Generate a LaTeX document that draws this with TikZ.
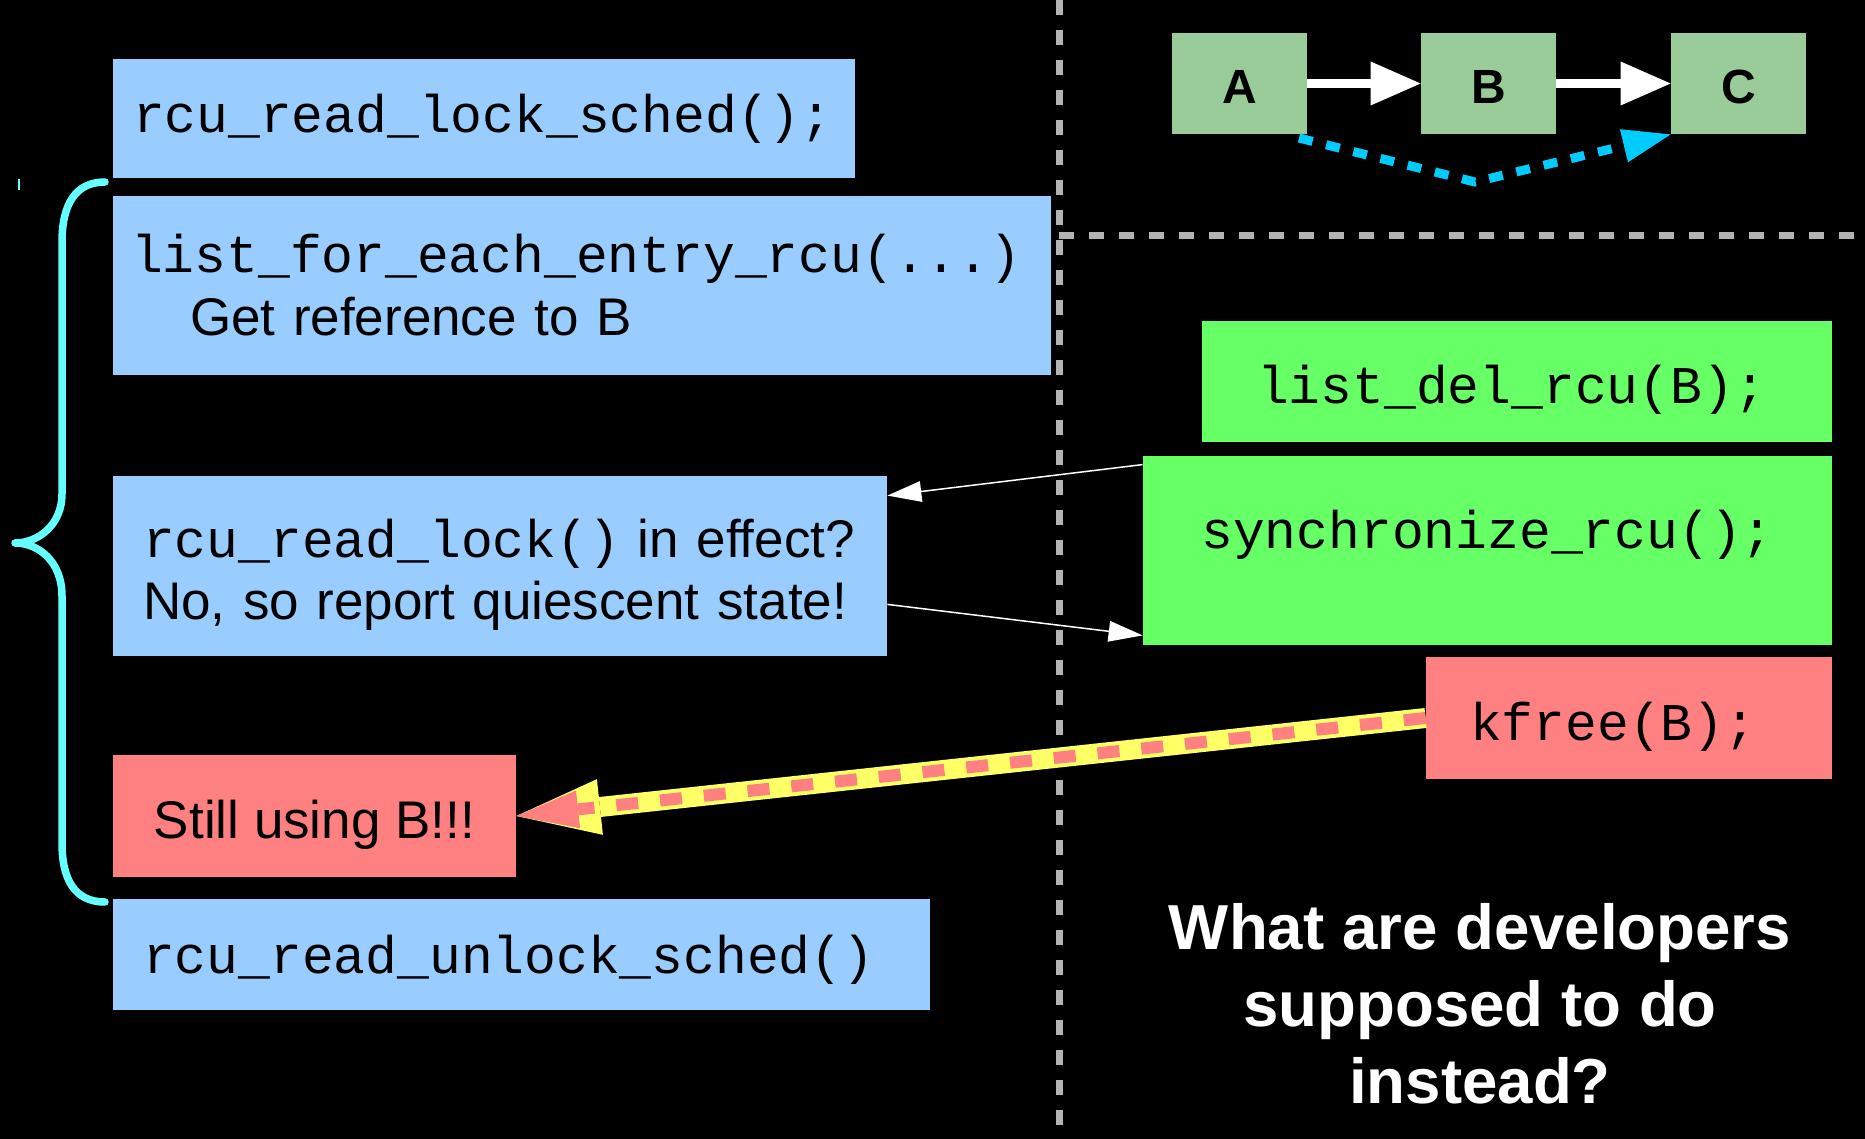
\documentclass[tikz,border=0pt]{standalone}
\usepackage{fontspec}
\setmainfont{Liberation Sans}
\newfontfamily\codefont{Liberation Mono}
\usetikzlibrary{arrows.meta}

\definecolor{readerBlue}{HTML}{99CCFF}
\definecolor{updaterGreen}{HTML}{66FF66}
\definecolor{listGreen}{HTML}{99CC99}
\definecolor{freeRed}{HTML}{FF8080}
\definecolor{braceCyan}{HTML}{66FFFF}
\definecolor{linkBlue}{HTML}{00CCFF}
\definecolor{flowYellow}{HTML}{FFFF66}
\definecolor{dividerGray}{HTML}{B3B3B3}

\newcommand{\codesize}{\fontsize{26.5pt}{31.5pt}\selectfont}

\tikzset{
	codeBox/.style={rectangle, fill=#1, inner ysep=0pt, align=left, font=\codesize},
	listBox/.style={rectangle, fill=listGreen, minimum width=67.5pt, minimum height=50.5pt, inner ysep=0pt, text height=20.5pt, text depth=0pt, font=\fontsize{24pt}{28pt}\selectfont\bfseries},
	divider/.style={draw=dividerGray, line width=3.5pt, dash pattern=on 7.5pt off 7.5pt},
	nextArrow/.style={draw=white, line width=4.5pt, -{Triangle[length=25pt,width=22pt,line width=0pt]}},
	callArrow/.style={draw=white, line width=0.75pt, -{Triangle[length=17pt,width=10.5pt,line width=0pt]}},
}

\begin{document}
\begin{tikzpicture}[x=0.5pt,y=-0.5pt]
	\useasboundingbox (0,0) rectangle (1865,1139);
	\fill[black] (0,0) rectangle (1865,1139);

	\coordinate (divTop) at (1059,0);
	\coordinate (divBottom) at (1059,1139);
	\coordinate (divJoin) at (1059,236);
	\coordinate (divRight) at (1865,236);
	\draw[divider] (divTop) -- (divBottom);
	\draw[divider] (divJoin) -- (divRight);

	\node[codeBox=readerBlue, minimum height=59.5pt, text width=351pt, inner xsep=10pt, text height=14pt, text depth=0pt](lockSched) at (484,119){\codefont rcu\_read\_lock\_sched();};
	\node[codeBox=readerBlue, minimum height=89.5pt, text width=451pt, inner xsep=9pt](forEach) at (582,285.5){{\codefont list\_for\_each\_entry\_rcu(...)}\\\hspace*{29.5pt}Get reference to B};
	\node[codeBox=readerBlue, minimum height=90pt, text width=357pt, inner xsep=15pt](readLock) at (500,566){\rule{0pt}{28.5pt}{\codefont rcu\_read\_lock()} in effect?\\No, so report quiescent state!\rule[-6pt]{0pt}{0pt}};
	\node[codeBox=freeRed, minimum height=61pt, minimum width=201.5pt, text height=22pt, text depth=0pt](stillUsing) at (314.5,816){Still using B!!!};
	\node[codeBox=readerBlue, minimum height=55.5pt, text width=378.5pt, inner xsep=15pt, text height=18.5pt, text depth=0pt](unlockSched) at (521.5,954.5){\codefont rcu\_read\_unlock\_sched()};

	\node[codeBox=updaterGreen, minimum height=60.5pt, text width=260pt, inner xsep=27.5pt, text height=21.5pt, text depth=0pt](listDel) at (1517,382){\codefont list\_del\_rcu(B);};
	\node[codeBox=updaterGreen, minimum height=94.5pt, minimum width=344.5pt, text height=0pt, text depth=2.5pt](sync) at (1487.5,550.5){\codefont synchronize\_rcu();};
	\node[codeBox=freeRed, minimum height=61pt, text width=159pt, inner xsep=22pt, text height=22pt, text depth=0pt](kfree) at (1629,718){\codefont kfree(B);};

	\node[listBox](nodeA) at (1239.5,83.5){A};
	\node[listBox](nodeB) at (1488.5,83.5){B};
	\node[listBox](nodeC) at (1738.5,83.5){C};
	\draw[nextArrow] (nodeA) -- (nodeB);
	\draw[nextArrow] (nodeB) -- (nodeC);
	\coordinate (skipStart) at (1299,138);
	\coordinate (skipDip) at (1475,182);
	\draw[linkBlue, line width=4.5pt, dash pattern=on 7pt off 7pt, -{Triangle[length=24pt,width=17pt,line width=0pt]}] (skipStart) -- (skipDip) -- (nodeC.south west);

	\draw[callArrow] ([yshift=-4.5pt]sync.north west) -- ([yshift=-10pt]readLock.north east);
	\draw[callArrow] ([yshift=26pt]readLock.south east) -- ([yshift=5pt]sync.south west);

	\draw[flowYellow, line width=10pt, -{Triangle[length=42pt,width=28pt,line width=0pt]}] (kfree.west) -- (stillUsing.east);
	\draw[freeRed, line width=6pt, dash pattern=on 11pt off 11pt, -{Triangle[length=31pt,width=19pt,line width=0pt]}] (kfree.west) -- (stillUsing.east);

	\draw[braceCyan, line width=3.75pt, line cap=round, line join=round] (105,182) .. controls (75,182) and (62,205) .. (62,242) -- (62,494) .. controls (62,525) and (38,543) .. (15,543) .. controls (38,543) and (62,561) .. (62,596) -- (62,843) .. controls (62,880) and (75,902) .. (105,902);
	\draw[braceCyan, line width=0.6pt] (19,179) -- (19,190);

	\node[text=white, align=center, font=\fontsize{31.8pt}{38.5pt}\selectfont\bfseries](question) at (1480,1004){What are developers\\supposed to do\\instead?};
\end{tikzpicture}
\end{document}
